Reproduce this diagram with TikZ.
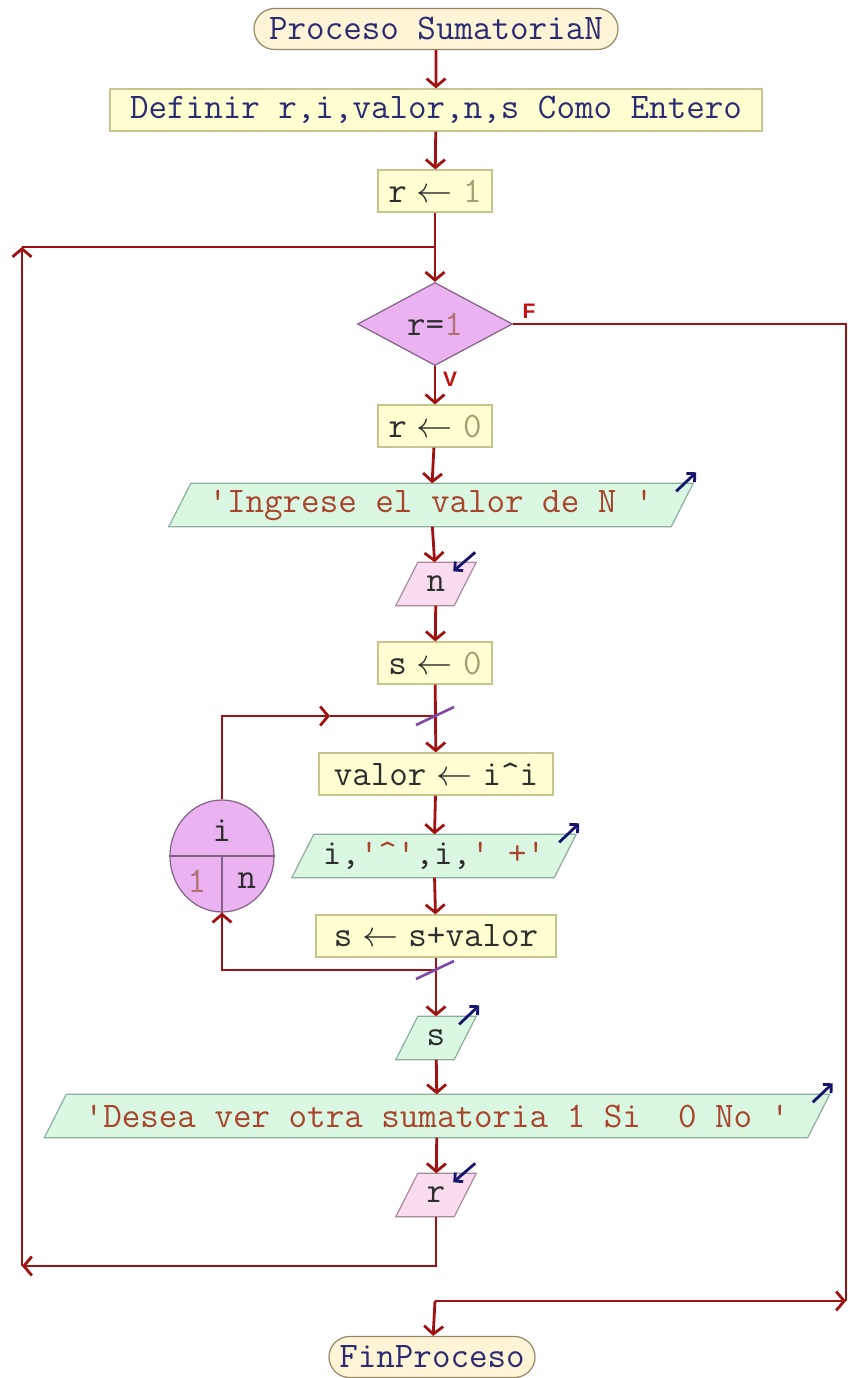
\documentclass[tikz,border=0pt]{standalone}
\usepackage{fontspec}
\usepackage{graphicx}
\setsansfont{Liberation Sans}
\usetikzlibrary{shapes.geometric,shapes.misc,arrows.meta,calc,backgrounds}

\definecolor{flowred}{HTML}{A01212}
\definecolor{procfill}{HTML}{FFFFD2}
\definecolor{procdraw}{HTML}{C9C38E}
\definecolor{termfill}{HTML}{FFF5D6}
\definecolor{termdraw}{HTML}{968766}
\definecolor{outfill}{HTML}{D9F7E1}
\definecolor{outdraw}{HTML}{8DAE9C}
\definecolor{infill}{HTML}{F9DDEE}
\definecolor{indraw}{HTML}{A98A9D}
\definecolor{decfill}{HTML}{EAB2F0}
\definecolor{decdraw}{HTML}{84608A}
\definecolor{ink}{HTML}{2E2E2E}
\definecolor{navy}{HTML}{2B2B72}
\definecolor{numcol}{HTML}{A3A06E}
\definecolor{strcol}{HTML}{A8452E}
\definecolor{ionav}{HTML}{15156E}
\definecolor{slashcol}{HTML}{8048A8}
\definecolor{labred}{HTML}{C41010}
\definecolor{loopnum}{HTML}{B07070}

% assignment arrow, kept to one character cell
\newcommand\asg{\makebox[19pt][c]{\scalebox{1.45}{$\leftarrow$}}}
% parallelogram drawn behind a text node (name, fill, border)
\newcommand\slantbox[3]{%
  \begin{pgfonlayer}{background}
    \filldraw[fill=#2, draw=#3, line width=1.2pt]
      ($(#1.south west)+(-11,0)$) -- ($(#1.south east)+(-11,0)$) --
      ($(#1.north east)+(11,0)$) -- ($(#1.north west)+(11,0)$) -- cycle;
  \end{pgfonlayer}}
% small arrow marking an output statement
\newcommand\outmark[1]{%
  \draw[ionav, line width=2.8pt, -{Straight Barb[length=6pt,width=12pt]}]
    ($(#1.north east)+(-6,8)$) -- ($(#1.north east)+(14,-11)$);}
% small arrow marking an input statement
\newcommand\inmark[1]{%
  \draw[ionav, line width=2.8pt, -{Straight Barb[length=6pt,width=12pt]}]
    ($(#1.north east)+(10,-10)$) -- ($(#1.north east)+(-12,9)$);}

\begin{document}
\begin{tikzpicture}[x=1pt, y=-1pt,
  font=\ttfamily\fontsize{36}{40}\selectfont, text=ink,
  proc/.style={rectangle, draw=procdraw, fill=procfill, line width=1.2pt,
    minimum height=42pt, inner xsep=10pt, inner ysep=0pt},
  term/.style={rounded rectangle, draw=termdraw, fill=termfill, line width=1.2pt,
    minimum height=41pt, inner xsep=6pt, inner ysep=0pt},
  iobox/.style={rectangle, minimum height=43pt, inner sep=0pt},
  dec/.style={diamond, draw=decdraw, fill=decfill, line width=1.2pt,
    minimum width=155pt, minimum height=83pt, inner sep=0pt},
  loopnode/.style={ellipse, draw=decdraw, fill=decfill, line width=1.2pt,
    minimum width=104pt, minimum height=112pt, inner sep=0pt},
  flow/.style={draw=flowred, line width=2.8pt, -{Straight Barb[length=8pt,width=19pt]}},
  link/.style={draw=flowred, line width=2.8pt},
  lab/.style={text=labred, font=\sffamily\bfseries\fontsize{21}{24}\selectfont},
  slash/.style={draw=slashcol, line width=2.6pt}
]
\begin{pgfonlayer}{background}
  \fill[white] (0,0) rectangle (848,1378);
\end{pgfonlayer}
\useasboundingbox (0,0) rectangle (848,1378);

% main column
\node[term, minimum width=376pt, text=navy] (start) at (436,29) {Proceso SumatoriaN};
\node[proc, minimum width=652pt, text=navy] (def) at (436,110) {Definir r,i,valor,n,s Como Entero};
\node[proc, minimum width=114pt] (r1) at (435,191) {r \asg{} \textcolor{numcol}{1}};
\node[dec] (cond) at (435,324) {r=\textcolor{loopnum}{1}};
\node[proc, minimum width=114pt] (r0) at (435,426) {r \asg{} \textcolor{numcol}{0}};
\node[iobox, minimum width=502pt, text=strcol] (ing) at (431,505)
  {\textquotesingle Ingrese el valor de N\ \textquotesingle};
\node[iobox, minimum width=58pt] (inn) at (436,584) {n};
\node[proc, minimum width=114pt] (s0) at (435,663) {s \asg{} \textcolor{numcol}{0}};
\node[proc, minimum width=234pt] (valor) at (436,774) {valor \asg{} i\textasciicircum i};
\node[iobox, minimum width=262pt] (pot) at (434,856)
  {i,\textcolor{strcol}{\textquotesingle\textasciicircum\textquotesingle},i,\textcolor{strcol}{\textquotesingle\ +\textquotesingle}};
\node[proc, minimum width=240pt] (ssum) at (436,936) {s \asg{} s+valor};
\node[iobox, minimum width=58pt] (sout) at (436,1038) {s};
\node[iobox, minimum width=763pt, text=strcol] (desea) at (437,1116)
  {\textquotesingle Desea ver otra sumatoria 1 Si\ \ 0 No\ \textquotesingle};
\node[iobox, minimum width=58pt] (rin) at (436,1195) {r};
\node[term, minimum width=218pt, text=navy] (fin) at (432,1357) {FinProceso};

\slantbox{ing}{outfill}{outdraw}
\slantbox{inn}{infill}{indraw}
\slantbox{pot}{outfill}{outdraw}
\slantbox{sout}{outfill}{outdraw}
\slantbox{desea}{outfill}{outdraw}
\slantbox{rin}{infill}{indraw}

% for-loop header
\node[loopnode] (lp) at (222,856) {};
\draw[decdraw, line width=1.2pt] (lp.west) -- (lp.east) (lp.center) -- (lp.south);
\node (lpvar) at (222,831) {i};
\node (lpfrom) at (197,881) {\textcolor{loopnum}{1}};
\node (lpto) at (247,881) {n};

% junction points and corners
\coordinate (jtop) at (435,247);
\coordinate (jl1) at (435,716);
\coordinate (jl2) at (435,970);
\coordinate (lpmid) at (330,716);
\coordinate (cbl) at (22,1266);
\coordinate (ctl) at (22,247);
\coordinate (ctr) at (846,324);
\coordinate (cbr) at (846,1301);
\coordinate (jbot) at (435,1301);

% sequence arrows
\draw[flow] (start) -- (def);
\draw[flow] (def) -- (r1);
\draw[flow] (r1) -- (cond);
\draw[flow] (cond) -- (r0);
\draw[flow] (r0) -- (ing);
\draw[flow] (ing) -- (inn);
\draw[flow] (inn) -- (s0);
\draw[flow] (s0) -- (valor);
\draw[flow] (valor) -- (pot);
\draw[flow] (pot) -- (ssum);
\draw[flow] (ssum) -- (sout);
\draw[flow] (sout) -- (desea);
\draw[flow] (desea) -- (rin);

% for-loop return path
\draw[flow] (lp.north) |- (lpmid);
\draw[link] (lpmid) -- (jl1);
\draw[flow] (jl2) -| (lp.south);
\draw[slash] ($(jl1)+(-19,9)$) -- ($(jl1)+(19,-9)$);
\draw[slash] ($(jl2)+(-19,9)$) -- ($(jl2)+(19,-9)$);

% repeat loop back to the condition
\draw[flow] (rin) |- (cbl);
\draw[flow] (cbl) -- (ctl);
\draw[link] (ctl) -- (jtop);

% false branch to the end
\draw[link] (cond.east) -- (ctr) -- (cbr);
\draw[flow] (jbot) -- (cbr);
\draw[flow] (jbot) -- (fin);

\node[lab] (flab) at (529,311) {F};
\node[lab] (vlab) at (450,379) {V};

% input / output markers
\outmark{ing}
\inmark{inn}
\outmark{pot}
\outmark{sout}
\outmark{desea}
\inmark{rin}
\end{tikzpicture}
\end{document}
